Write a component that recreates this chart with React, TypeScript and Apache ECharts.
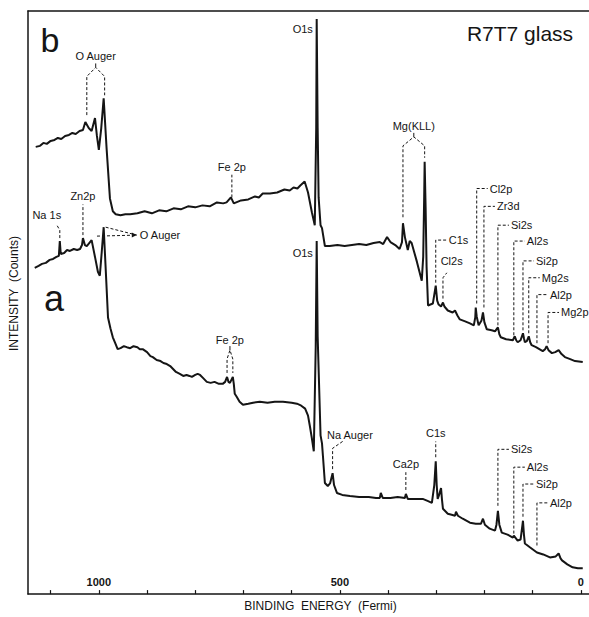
import React, { useEffect, useRef } from "react";
import * as echarts from "echarts";

// Binding energy (eV, "Fermi") vs intensity (arbitrary counts)
const spectrumB: [number, number][] = [
  [1131, 451], [1122, 452], [1115, 455], [1108, 454], [1100, 457], [1092, 458], [1085, 460], [1078, 459],
  [1070, 462], [1062, 463], [1055, 465], [1048, 464], [1040, 467], [1033, 468], [1028, 476], [1021, 470],
  [1015, 467], [1008, 480], [1004, 462], [1000, 448], [995, 470], [990, 500], [984, 450], [977, 399],
  [971, 386], [965, 383], [955, 382], [945, 383], [935, 383], [920, 384], [905, 386], [890, 384],
  [875, 387], [860, 386], [845, 389], [830, 388], [815, 391], [800, 390], [785, 392], [770, 391],
  [755, 395], [742, 394], [735, 395], [726, 400], [720, 394], [705, 397], [690, 398], [676, 401],
  [668, 400], [660, 404], [645, 404], [630, 405], [615, 408], [604, 407], [596, 410], [588, 409],
  [582, 412], [573, 416], [566, 405], [558, 385], [552, 372], [549, 470], [548, 580], [546, 470],
  [544, 400], [540, 372], [537, 369], [531, 351], [521, 351], [505, 352], [490, 351], [475, 352],
  [460, 353], [445, 352], [430, 354], [417, 355], [410, 353], [402, 360], [395, 355], [385, 352],
  [376, 348], [371, 355], [369, 374], [365, 360], [359, 347], [355, 356], [351, 354], [340, 335],
  [330, 316], [327, 340], [325, 400], [324, 436], [322, 390], [320, 330], [317, 291], [307, 293],
  [301, 311], [298, 296], [295, 292], [290, 290], [286, 294], [283, 290], [276, 286], [266, 284],
  [261, 286], [256, 281], [251, 277], [240, 275], [230, 273], [222, 271], [219, 279], [218, 289],
  [216, 280], [212, 271], [206, 276], [203, 284], [200, 274], [195, 267], [185, 266], [178, 265],
  [172, 269], [169, 262], [166, 259], [155, 257], [141, 256], [139, 258], [137, 260], [134, 256],
  [131, 254], [125, 256], [120, 263], [118, 258], [116, 254], [112, 255], [108, 260], [105, 254],
  [102, 251], [93, 249], [86, 247], [79, 245], [74, 247], [71, 250], [67, 246], [60, 243],
  [53, 244], [46, 246], [40, 242], [33, 239], [22, 237], [12, 235], [-4, 234],
];

const spectrumA: [number, number][] = [
  [1133, 329], [1125, 331], [1118, 333], [1110, 334], [1102, 337], [1095, 338], [1088, 340], [1083, 341],
  [1081, 356], [1079, 343], [1072, 344], [1066, 347], [1060, 346], [1052, 348], [1045, 347], [1039, 348],
  [1035, 352], [1033, 359], [1029, 352], [1025, 351], [1020, 354], [1015, 357], [1008, 340], [1002, 325],
  [998, 321], [994, 345], [990, 370], [986, 330], [981, 279], [976, 268], [971, 259], [966, 253],
  [961, 247], [955, 248], [948, 250], [942, 249], [935, 248], [928, 250], [920, 249], [915, 247],
  [909, 247], [900, 244], [893, 240], [888, 239], [880, 236], [872, 235], [866, 233], [859, 232],
  [852, 230], [846, 227], [840, 224], [832, 222], [825, 220], [818, 221], [812, 220], [807, 219],
  [800, 221], [795, 222], [790, 221], [784, 218], [776, 214], [768, 213], [760, 214], [751, 212],
  [743, 212], [738, 214], [734, 219], [731, 214], [728, 213], [725, 216], [722, 219], [720, 212],
  [718, 202], [714, 199], [708, 194], [701, 191], [690, 192], [680, 193], [666, 194], [650, 193],
  [635, 194], [618, 194], [600, 193], [589, 192], [580, 190], [572, 187], [566, 180], [562, 169],
  [558, 157], [554, 144], [550, 250], [548, 356], [546, 260], [540, 160], [537, 152], [535, 139],
  [531, 112], [525, 109], [520, 112], [515, 122], [512, 110], [506, 102], [495, 100], [479, 99],
  [460, 98], [440, 98], [425, 97], [417, 97], [415, 102], [411, 97], [395, 97], [380, 98],
  [365, 97], [363, 101], [359, 96], [345, 96], [328, 96], [318, 94], [309, 92], [304, 110],
  [301, 134], [299, 110], [297, 96], [294, 100], [290, 107], [288, 95], [286, 86], [280, 83],
  [276, 81], [268, 80], [261, 79], [259, 83], [255, 79], [245, 76], [230, 72], [218, 71],
  [207, 71], [203, 76], [199, 70], [189, 66], [178, 64], [175, 70], [172, 84], [169, 70],
  [164, 62], [152, 60], [141, 57], [139, 59], [131, 54], [125, 55], [121, 70], [120, 74],
  [118, 60], [116, 51], [105, 47], [91, 42], [78, 40], [64, 37], [52, 38], [46, 41],
  [42, 36], [39, 34], [28, 30], [17, 27], [6, 26], [-4, 26],
];

const tickValues = [0, 100, 200, 300, 400, 500, 600, 700, 800, 900, 1000, 1100];
const tickLabels = [0, 500, 1000];

// [label, energy, peak intensity, label level]
const cornerMarks: [string, number, number, number][] = [
  ["Cl2p", 216, 291, 409],
  ["Zr3d", 201, 287, 391],
  ["Si2s", 172, 269, 372],
  ["Al2s", 139, 259, 356],
  ["Si2p", 120, 264, 336],
  ["Mg2s", 108, 261, 319],
  ["Al2p", 91, 251, 302],
  ["Mg2p", 68, 251, 284],
  ["C1s", 301, 312, 357],
  ["Si2s", 172, 87, 146],
  ["Al2s", 139, 59, 128],
  ["Si2p", 120, 76, 111],
  ["Al2p", 91, 47, 92],
];

// [label, energy, peak intensity, label level]
const verticalMarks: [string, number, number, number][] = [
  ["Fe 2p", 724, 398, 431],
  ["Zn2p", 1033, 360, 401],
  ["Ca2p", 363, 103, 131],
  ["C1s", 301, 136, 162],
];

// [label, energy 1, energy 2, peak 1, peak 2, shoulder, label level]
const bracketMarks: [string, number, number, number, number, number, number][] = [
  ["O Auger", 1025, 988, 481, 501, 522, 543],
  ["Mg(KLL)", 369, 324, 378, 438, 452, 472],
  ["Fe 2p", 734, 722, 221, 221, 237, 256],
];

// [label, energy, peak, kink level, end energy, end level, label energy, label level]
const kinkMarks: [string, number, number, number, number, number, number, number][] = [
  ["Na 1s", 1081, 357, 367, 1087, 372, 1108, 382],
  ["Cl2s", 286, 296, 319, 278, 324, 268, 336],
  ["Na Auger", 515, 124, 147, 494, 154, 479, 160],
];

// [label, energy 1, level 1, energy 2, level 2, label energy, label level]
const arrowMarks: [string, number, number, number, number, number, number][] = [
  ["O Auger", 990, 370, 1008, 361, 915, 362],
];

// [label, energy (right edge), level]
const plainMarks: [string, number, number][] = [
  ["O1s", 556, 570],
  ["O1s", 556, 344],
];

const INK = "#151515";
const FONT = "'Liberation Sans', Arial, sans-serif";

const dash = { stroke: INK, lineWidth: 1, lineDash: [3, 2], fill: null };
const txt = (text: string, x: number, y: number, align: string, verticalAlign = "middle") => ({
  type: "text",
  style: { text, x, y, align, verticalAlign, fill: INK, fontSize: 11, fontFamily: FONT },
});

function custom(name: string, data: number[][], renderItem: any) {
  return {
    type: "custom",
    name,
    coordinateSystem: "cartesian2d",
    xAxisIndex: 0,
    yAxisIndex: 0,
    clip: false,
    silent: true,
    z: 5,
    data,
    encode: { x: 0, y: 1 },
    renderItem,
  };
}

export default function App() {
  const ref = useRef<HTMLDivElement>(null);

  useEffect(() => {
    if (!ref.current) return;
    const chart = echarts.init(ref.current, null, { renderer: "svg" });

    const cornerSeries = custom("corner labels", cornerMarks.map((m) => [m[1], m[3]]), (params: any, api: any) => {
      const [label, e, peak, level] = cornerMarks[params.dataIndex];
      const p0 = api.coord([e, peak]);
      const p1 = api.coord([e, level]);
      return {
        type: "group",
        children: [
          { type: "polyline", shape: { points: [[p0[0], p0[1] - 2], p1, [p1[0] + 11, p1[1]]] }, style: dash },
          txt(label, p1[0] + 13, p1[1], "left"),
        ],
      };
    });

    const verticalSeries = custom("vertical labels", verticalMarks.map((m) => [m[1], m[3]]), (params: any, api: any) => {
      const [label, e, peak, level] = verticalMarks[params.dataIndex];
      const p0 = api.coord([e, peak]);
      const p1 = api.coord([e, level]);
      return {
        type: "group",
        children: [
          { type: "polyline", shape: { points: [[p0[0], p0[1] - 2], [p1[0], p1[1] + 8]] }, style: dash },
          txt(label, p1[0], p1[1], "center"),
        ],
      };
    });

    const bracketSeries = custom("bracket labels", bracketMarks.map((m) => [m[1], m[6]]), (params: any, api: any) => {
      const [label, e1, e2, pk1, pk2, sh, level] = bracketMarks[params.dataIndex];
      const a1 = api.coord([e1, pk1]);
      const a2 = api.coord([e2, pk2]);
      const s1 = api.coord([e1, sh]);
      const s2 = api.coord([e2, sh]);
      const mx = (s1[0] + s2[0]) / 2;
      const ay = s1[1] - 9;
      const t = api.coord([e1, level]);
      return {
        type: "group",
        children: [
          { type: "polyline", shape: { points: [[a1[0], a1[1] - 2], s1, [mx, ay], s2, [a2[0], a2[1] - 2]] }, style: dash },
          { type: "polyline", shape: { points: [[mx, ay], [mx, ay - 4]] }, style: { stroke: INK, lineWidth: 1, fill: null } },
          txt(label, mx, t[1], "center"),
        ],
      };
    });

    const kinkSeries = custom("kinked labels", kinkMarks.map((m) => [m[6], m[7]]), (params: any, api: any) => {
      const [label, e, peak, kink, ee, ei, te, ti] = kinkMarks[params.dataIndex];
      const p0 = api.coord([e, peak]);
      const p1 = api.coord([e, kink]);
      const p2 = api.coord([ee, ei]);
      const t = api.coord([te, ti]);
      return {
        type: "group",
        children: [
          { type: "polyline", shape: { points: [[p0[0], p0[1] - 2], p1, p2] }, style: dash },
          txt(label, t[0], t[1], "center"),
        ],
      };
    });

    const arrowSeries = custom("arrow labels", arrowMarks.map((m) => [m[5], m[6]]), (params: any, api: any) => {
      const [label, e1, i1, e2, i2, te, ti] = arrowMarks[params.dataIndex];
      const p1 = api.coord([e1, i1]);
      const p2 = api.coord([e2, i2]);
      const t = api.coord([te, ti]);
      const tip = [t[0] - 3, t[1]];
      return {
        type: "group",
        children: [
          { type: "polyline", shape: { points: [[p1[0] + 2, p1[1]], tip] }, style: dash },
          { type: "polyline", shape: { points: [[p2[0] + 2, p2[1]], tip] }, style: dash },
          { type: "polygon", shape: { points: [tip, [tip[0] - 5, tip[1] - 2.5], [tip[0] - 5, tip[1] + 2.5]] }, style: { fill: INK } },
          txt(label, t[0], t[1], "left"),
        ],
      };
    });

    const plainSeries = custom("peak names", plainMarks.map((m) => [m[1], m[2]]), (params: any, api: any) => {
      const [label, e, level] = plainMarks[params.dataIndex];
      const p = api.coord([e, level]);
      return txt(label, p[0], p[1], "right");
    });

    const axisLineStyle = { color: INK, width: 1.5 };

    chart.setOption({
      animation: false,
      backgroundColor: "#ffffff",
      textStyle: { fontFamily: FONT },
      grid: { left: 28, right: 0, top: 11, bottom: 18, containLabel: false },
      xAxis: [
        {
          type: "value",
          min: -17,
          max: 1147,
          inverse: true,
          position: "bottom",
          splitLine: { show: false },
          axisLine: { show: true, onZero: false, lineStyle: axisLineStyle },
          axisTick: { show: true, inside: true, length: 4, customValues: tickValues, lineStyle: { color: INK, width: 1.2 } },
          axisLabel: {
            inside: true,
            customValues: tickLabels,
            formatter: (v: number) => String(v),
            margin: 7,
            fontSize: 11,
            fontWeight: "bold",
            color: INK,
            fontFamily: FONT,
          },
          name: "BINDING  ENERGY  (Fermi)",
          nameLocation: "middle",
          nameGap: 5,
          nameTextStyle: { fontSize: 12, color: INK, fontFamily: FONT, verticalAlign: "top", padding: [0, 0, 0, 24] },
        },
        {
          type: "value",
          min: -17,
          max: 1147,
          inverse: true,
          position: "top",
          splitLine: { show: false },
          axisLine: { show: true, onZero: false, lineStyle: axisLineStyle },
          axisTick: { show: false },
          axisLabel: { show: false },
        },
      ],
      yAxis: {
        type: "value",
        min: 0,
        max: 588,
        splitLine: { show: false },
        axisLine: { show: true, onZero: false, lineStyle: axisLineStyle },
        axisTick: { show: false },
        axisLabel: { show: false },
        name: "INTENSITY  (Counts)",
        nameLocation: "middle",
        nameGap: 8,
        nameRotate: 90,
        nameTextStyle: { fontSize: 12, color: INK, fontFamily: FONT, padding: [0, 0, 0, 18] },
      },
      graphic: [
        { type: "text", x: 520, y: 33, style: { text: "R7T7 glass", align: "center", verticalAlign: "middle", fontSize: 21, fill: INK, fontFamily: FONT } },
        { type: "text", x: 50, y: 40, style: { text: "b", align: "center", verticalAlign: "middle", fontSize: 34, fill: INK, fontFamily: FONT } },
        { type: "text", x: 54, y: 298, style: { text: "a", align: "center", verticalAlign: "middle", fontSize: 36, fill: INK, fontFamily: FONT } },
      ],
      series: [
        {
          type: "line",
          name: "a",
          data: spectrumA,
          showSymbol: false,
          symbol: "none",
          lineStyle: { color: INK, width: 2 },
          silent: true,
          z: 3,
        },
        {
          type: "line",
          name: "b",
          data: spectrumB,
          showSymbol: false,
          symbol: "none",
          lineStyle: { color: INK, width: 2 },
          silent: true,
          z: 3,
        },
        cornerSeries,
        verticalSeries,
        bracketSeries,
        kinkSeries,
        arrowSeries,
        plainSeries,
      ],
    });

    return () => chart.dispose();
  }, []);

  return (
    <div
      ref={ref}
      style={{ position: "fixed", left: 0, top: 0, width: 589, height: 617, background: "#ffffff" }}
    />
  );
}
